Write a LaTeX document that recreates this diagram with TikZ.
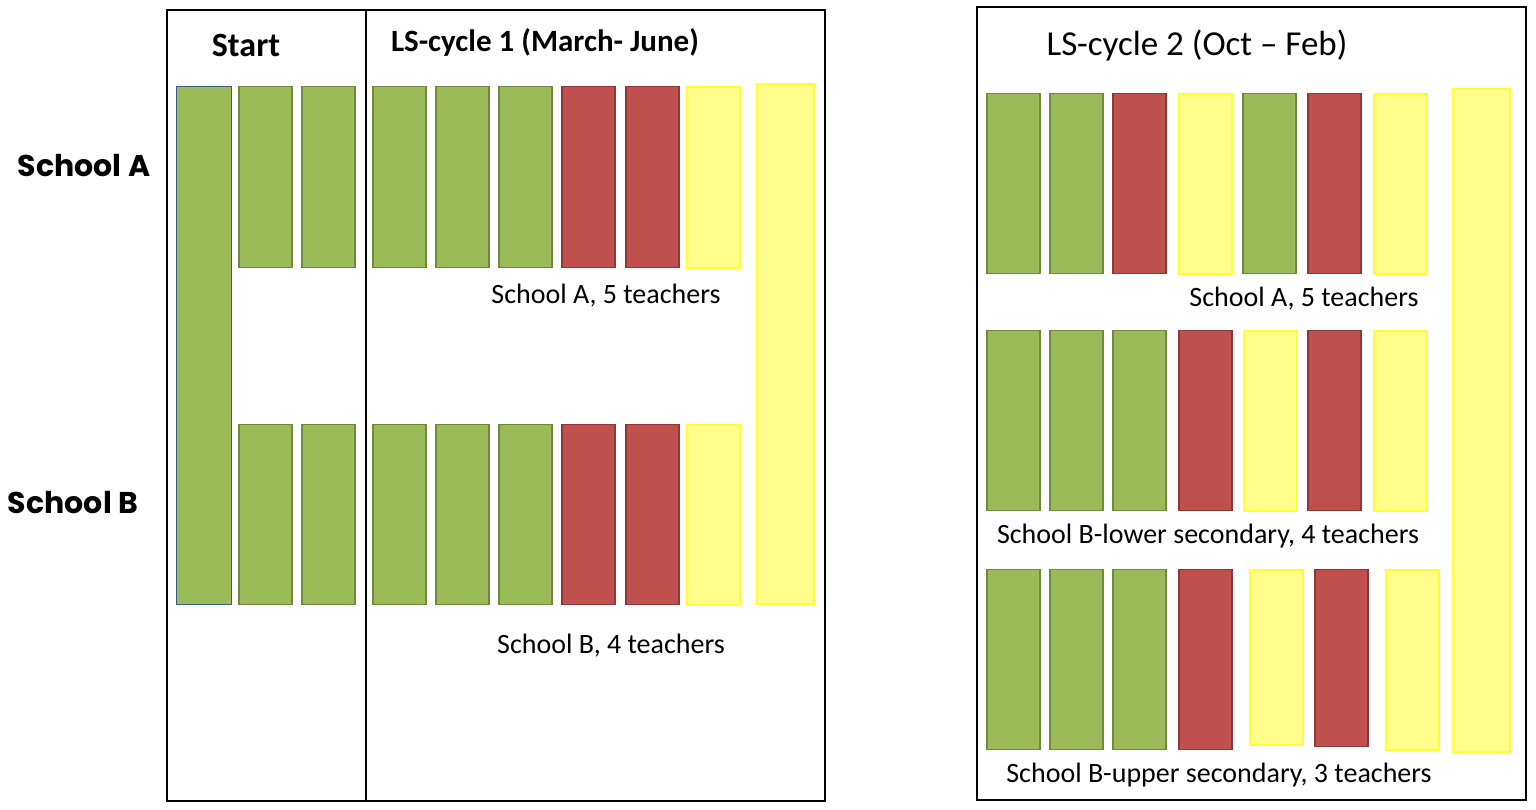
\documentclass[tikz,border=0pt]{standalone}
\usepackage{fontspec}
\setmainfont{Carlito}
\newfontfamily\schoolfont{Poppins}
\usetikzlibrary{positioning}
\definecolor{barGreen}{HTML}{9BBB59}
\definecolor{barGreenEdge}{HTML}{71893F}
\definecolor{barRed}{HTML}{C0504D}
\definecolor{barRedEdge}{HTML}{8C3836}
\definecolor{barYellow}{HTML}{FFFF8C}
\definecolor{barYellowEdge}{HTML}{FFFF33}
\definecolor{startEdge}{HTML}{385D8A}
\tikzset{
  bar/.style={draw, line width=1.2pt, inner sep=0pt, outer sep=0pt, anchor=north west, minimum width=53pt},
  greenbar/.style={bar, fill=barGreen, draw=barGreenEdge},
  redbar/.style={bar, fill=barRed, draw=barRedEdge},
  yellowbar/.style={bar, fill=barYellow, draw=barYellowEdge, line width=2pt},
  caption/.style={font=\fontsize{28}{32}\selectfont, inner sep=0pt},
  title/.style={font=\fontsize{31}{35}\selectfont\bfseries, inner sep=0pt},
  school/.style={font=\fontsize{30}{34}\selectfont\schoolfont\bfseries, inner sep=0pt},
  frame/.style={draw, line width=1.5pt}
}
\begin{document}
\begin{tikzpicture}[x=1pt, y=-1pt]
  \useasboundingbox (0,0) rectangle (1536,809);

  % Frames
  \draw[frame] (167,10) rectangle (825,801);
  \draw[frame] (366,10) -- (366,801);
  \draw[frame] (977,7) rectangle (1526,800);

  % Titles
  \node[title, font=\fontsize{34}{38}\selectfont\bfseries] (start) at (246,45) {Start};
  \node[title] (cycle1) at (545,42) {LS-cycle 1 (March- June)};
  \node[title, font=\fontsize{35}{39}\selectfont] (cycle2) at (1197,46) {LS-cycle 2 (Oct -- Feb)};

  % School labels
  \node[school] (schoolA) at (84,166) {School A};
  \node[school] (schoolB) at (73,503) {School B};

  % Cycle 1
  \node[bar, fill=barGreen, draw=startEdge, minimum width=55pt, minimum height=518pt] (first) at (176.5,86.5) {};
  \foreach \x/\c [count=\i] in {239/greenbar, 302/greenbar, 373/greenbar, 436/greenbar, 499/greenbar, 562/redbar, 626/redbar, 687/yellowbar}
    \node[\c, minimum height=181pt] (a\i) at (\x,86.5) {};
  \foreach \x/\c [count=\i] in {239/greenbar, 302/greenbar, 373/greenbar, 436/greenbar, 499/greenbar, 562/redbar, 626/redbar, 687/yellowbar}
    \node[\c, minimum height=180pt] (b\i) at (\x,424.5) {};
  \node[yellowbar, minimum width=57pt, minimum height=520pt] (last1) at (756.5,84) {};

  \node[caption] (capA) at (606,296) {School A, 5 teachers};
  \node[caption] (capB) at (611,646) {School B, 4 teachers};

  % Cycle 2
  \foreach \x/\c [count=\i] in {987/greenbar, 1050/greenbar, 1113/redbar, 1179/yellowbar, 1243/greenbar, 1308/redbar, 1374/yellowbar}
    \node[\c, minimum height=180pt] (c\i) at (\x,93.5) {};
  \foreach \x/\c [count=\i] in {987/greenbar, 1050/greenbar, 1113/greenbar, 1179/redbar, 1244/yellowbar, 1308/redbar, 1374/yellowbar}
    \node[\c, minimum height=180pt] (d\i) at (\x,330.5) {};
  \foreach \x/\c/\h [count=\i] in {987/greenbar/180, 1050/greenbar/180, 1113/greenbar/180, 1179/redbar/180, 1250/yellowbar/175, 1315/redbar/177, 1386/yellowbar/180}
    \node[\c, minimum height=\h pt] (e\i) at (\x,569.5) {};
  \node[yellowbar, minimum width=57pt, minimum height=663pt] (last2) at (1452.5,88.5) {};

  \node[caption] (capC) at (1304,299) {School A, 5 teachers};
  \node[caption] (capD) at (1208,536) {School B-lower secondary, 4 teachers};
  \node[caption] (capE) at (1219,775) {School B-upper secondary, 3 teachers};
\end{tikzpicture}
\end{document}
